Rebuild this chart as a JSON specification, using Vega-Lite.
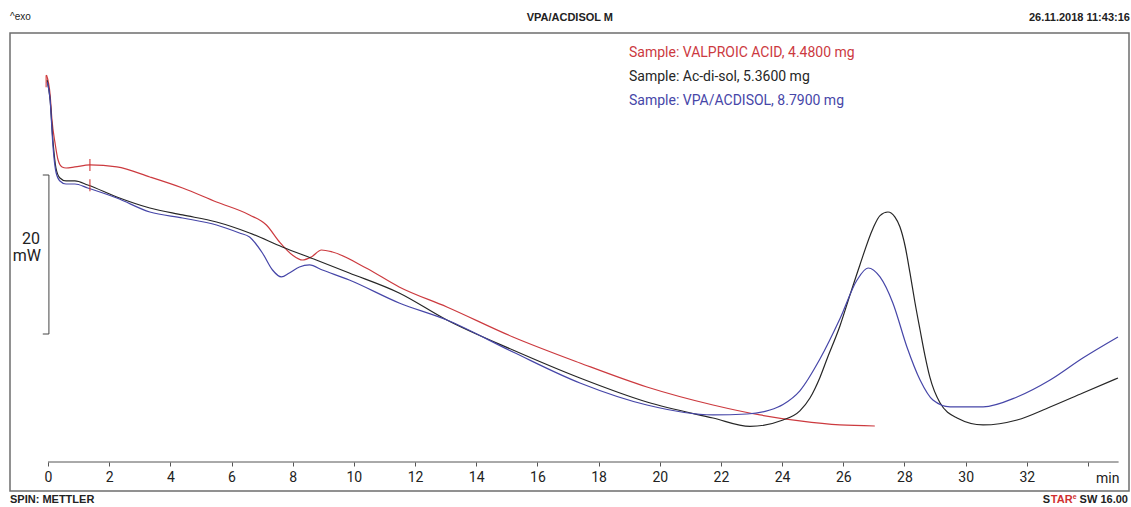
{
  "$schema": "https://vega.github.io/schema/vega-lite/v6.json",
  "width": 1119,
  "height": 429,
  "autosize": "none",
  "padding": {"left": 10, "top": 33, "right": 2, "bottom": 45},
  "background": "white",
  "config": {
    "view": {"stroke": null},
    "font": "Roboto"
  },
  "datasets": {
    "curves": [
      {"series": "VALPROIC ACID", "t": -0.05, "mW": 48.38},
      {"series": "VALPROIC ACID", "t": 0.07, "mW": 45.88},
      {"series": "VALPROIC ACID", "t": 0.13, "mW": 42.75},
      {"series": "VALPROIC ACID", "t": 0.23, "mW": 39.88},
      {"series": "VALPROIC ACID", "t": 0.33, "mW": 37.75},
      {"series": "VALPROIC ACID", "t": 0.46, "mW": 36.88},
      {"series": "VALPROIC ACID", "t": 0.59, "mW": 36.75},
      {"series": "VALPROIC ACID", "t": 0.88, "mW": 36.88},
      {"series": "VALPROIC ACID", "t": 1.37, "mW": 37.13},
      {"series": "VALPROIC ACID", "t": 2.25, "mW": 36.88},
      {"series": "VALPROIC ACID", "t": 3.33, "mW": 35.63},
      {"series": "VALPROIC ACID", "t": 4.4, "mW": 34.25},
      {"series": "VALPROIC ACID", "t": 5.51, "mW": 32.5},
      {"series": "VALPROIC ACID", "t": 6.59, "mW": 30.88},
      {"series": "VALPROIC ACID", "t": 7.14, "mW": 29.63},
      {"series": "VALPROIC ACID", "t": 7.57, "mW": 27.5},
      {"series": "VALPROIC ACID", "t": 7.99, "mW": 25.88},
      {"series": "VALPROIC ACID", "t": 8.32, "mW": 25.25},
      {"series": "VALPROIC ACID", "t": 8.61, "mW": 25.63},
      {"series": "VALPROIC ACID", "t": 8.94, "mW": 26.5},
      {"series": "VALPROIC ACID", "t": 9.3, "mW": 26.25},
      {"series": "VALPROIC ACID", "t": 10.4, "mW": 24.25},
      {"series": "VALPROIC ACID", "t": 11.48, "mW": 21.88},
      {"series": "VALPROIC ACID", "t": 13.04, "mW": 19.38},
      {"series": "VALPROIC ACID", "t": 15.2, "mW": 15.63},
      {"series": "VALPROIC ACID", "t": 17.39, "mW": 12.38},
      {"series": "VALPROIC ACID", "t": 19.58, "mW": 9.38},
      {"series": "VALPROIC ACID", "t": 21.74, "mW": 7.13},
      {"series": "VALPROIC ACID", "t": 23.28, "mW": 5.88},
      {"series": "VALPROIC ACID", "t": 24.58, "mW": 5.13},
      {"series": "VALPROIC ACID", "t": 25.89, "mW": 4.63},
      {"series": "VALPROIC ACID", "t": 27.03, "mW": 4.5},

      {"series": "Ac-di-sol", "t": -0.03, "mW": 47.75},
      {"series": "Ac-di-sol", "t": 0.07, "mW": 45.25},
      {"series": "Ac-di-sol", "t": 0.16, "mW": 40.25},
      {"series": "Ac-di-sol", "t": 0.26, "mW": 36.75},
      {"series": "Ac-di-sol", "t": 0.39, "mW": 35.5},
      {"series": "Ac-di-sol", "t": 0.59, "mW": 35.13},
      {"series": "Ac-di-sol", "t": 0.88, "mW": 35.13},
      {"series": "Ac-di-sol", "t": 1.3, "mW": 34.63},
      {"series": "Ac-di-sol", "t": 2.25, "mW": 33.13},
      {"series": "Ac-di-sol", "t": 3.33, "mW": 31.75},
      {"series": "Ac-di-sol", "t": 4.4, "mW": 30.88},
      {"series": "Ac-di-sol", "t": 5.51, "mW": 30.0},
      {"series": "Ac-di-sol", "t": 6.59, "mW": 28.63},
      {"series": "Ac-di-sol", "t": 7.66, "mW": 26.88},
      {"series": "Ac-di-sol", "t": 8.77, "mW": 25.25},
      {"series": "Ac-di-sol", "t": 9.85, "mW": 23.63},
      {"series": "Ac-di-sol", "t": 11.48, "mW": 21.13},
      {"series": "Ac-di-sol", "t": 13.04, "mW": 17.75},
      {"series": "Ac-di-sol", "t": 15.2, "mW": 14.0},
      {"series": "Ac-di-sol", "t": 17.39, "mW": 10.5},
      {"series": "Ac-di-sol", "t": 19.58, "mW": 7.5},
      {"series": "Ac-di-sol", "t": 21.74, "mW": 5.5},
      {"series": "Ac-di-sol", "t": 22.95, "mW": 4.45},
      {"series": "Ac-di-sol", "t": 24.03, "mW": 5.25},
      {"series": "Ac-di-sol", "t": 24.58, "mW": 6.4},
      {"series": "Ac-di-sol", "t": 24.91, "mW": 8.0},
      {"series": "Ac-di-sol", "t": 25.24, "mW": 10.6},
      {"series": "Ac-di-sol", "t": 25.47, "mW": 12.9},
      {"series": "Ac-di-sol", "t": 25.89, "mW": 17.0},
      {"series": "Ac-di-sol", "t": 26.22, "mW": 20.9},
      {"series": "Ac-di-sol", "t": 26.54, "mW": 24.6},
      {"series": "Ac-di-sol", "t": 26.97, "mW": 29.2},
      {"series": "Ac-di-sol", "t": 27.2, "mW": 30.8},
      {"series": "Ac-di-sol", "t": 27.46, "mW": 31.25},
      {"series": "Ac-di-sol", "t": 27.69, "mW": 30.6},
      {"series": "Ac-di-sol", "t": 27.85, "mW": 29.4},
      {"series": "Ac-di-sol", "t": 28.02, "mW": 27.0},
      {"series": "Ac-di-sol", "t": 28.18, "mW": 23.63},
      {"series": "Ac-di-sol", "t": 28.34, "mW": 20.0},
      {"series": "Ac-di-sol", "t": 28.51, "mW": 16.5},
      {"series": "Ac-di-sol", "t": 28.67, "mW": 13.3},
      {"series": "Ac-di-sol", "t": 28.83, "mW": 10.6},
      {"series": "Ac-di-sol", "t": 29.16, "mW": 7.4},
      {"series": "Ac-di-sol", "t": 29.72, "mW": 5.5},
      {"series": "Ac-di-sol", "t": 30.57, "mW": 4.63},
      {"series": "Ac-di-sol", "t": 31.68, "mW": 5.25},
      {"series": "Ac-di-sol", "t": 32.76, "mW": 6.88},
      {"series": "Ac-di-sol", "t": 33.83, "mW": 8.63},
      {"series": "Ac-di-sol", "t": 34.98, "mW": 10.5},

      {"series": "VPA/ACDISOL", "t": -0.03, "mW": 47.5},
      {"series": "VPA/ACDISOL", "t": 0.07, "mW": 45.25},
      {"series": "VPA/ACDISOL", "t": 0.16, "mW": 39.63},
      {"series": "VPA/ACDISOL", "t": 0.26, "mW": 36.25},
      {"series": "VPA/ACDISOL", "t": 0.39, "mW": 35.13},
      {"series": "VPA/ACDISOL", "t": 0.59, "mW": 34.75},
      {"series": "VPA/ACDISOL", "t": 0.88, "mW": 34.75},
      {"series": "VPA/ACDISOL", "t": 1.3, "mW": 34.25},
      {"series": "VPA/ACDISOL", "t": 2.25, "mW": 33.0},
      {"series": "VPA/ACDISOL", "t": 3.33, "mW": 31.25},
      {"series": "VPA/ACDISOL", "t": 4.4, "mW": 30.5},
      {"series": "VPA/ACDISOL", "t": 5.51, "mW": 29.63},
      {"series": "VPA/ACDISOL", "t": 6.26, "mW": 28.63},
      {"series": "VPA/ACDISOL", "t": 6.59, "mW": 28.13},
      {"series": "VPA/ACDISOL", "t": 7.01, "mW": 26.13},
      {"series": "VPA/ACDISOL", "t": 7.34, "mW": 24.0},
      {"series": "VPA/ACDISOL", "t": 7.63, "mW": 23.13},
      {"series": "VPA/ACDISOL", "t": 7.89, "mW": 23.63},
      {"series": "VPA/ACDISOL", "t": 8.22, "mW": 24.38},
      {"series": "VPA/ACDISOL", "t": 8.55, "mW": 24.63},
      {"series": "VPA/ACDISOL", "t": 8.97, "mW": 24.0},
      {"series": "VPA/ACDISOL", "t": 9.85, "mW": 22.75},
      {"series": "VPA/ACDISOL", "t": 11.48, "mW": 19.88},
      {"series": "VPA/ACDISOL", "t": 13.04, "mW": 17.75},
      {"series": "VPA/ACDISOL", "t": 15.2, "mW": 13.75},
      {"series": "VPA/ACDISOL", "t": 17.39, "mW": 9.88},
      {"series": "VPA/ACDISOL", "t": 19.58, "mW": 7.13},
      {"series": "VPA/ACDISOL", "t": 21.74, "mW": 5.88},
      {"series": "VPA/ACDISOL", "t": 22.85, "mW": 6.0},
      {"series": "VPA/ACDISOL", "t": 23.6, "mW": 6.5},
      {"series": "VPA/ACDISOL", "t": 24.03, "mW": 7.2},
      {"series": "VPA/ACDISOL", "t": 24.58, "mW": 8.9},
      {"series": "VPA/ACDISOL", "t": 25.24, "mW": 12.9},
      {"series": "VPA/ACDISOL", "t": 25.89, "mW": 17.9},
      {"series": "VPA/ACDISOL", "t": 26.45, "mW": 22.75},
      {"series": "VPA/ACDISOL", "t": 26.81, "mW": 24.25},
      {"series": "VPA/ACDISOL", "t": 27.2, "mW": 23.13},
      {"series": "VPA/ACDISOL", "t": 27.62, "mW": 19.88},
      {"series": "VPA/ACDISOL", "t": 28.08, "mW": 14.38},
      {"series": "VPA/ACDISOL", "t": 28.51, "mW": 10.25},
      {"series": "VPA/ACDISOL", "t": 28.93, "mW": 7.75},
      {"series": "VPA/ACDISOL", "t": 29.49, "mW": 6.9},
      {"series": "VPA/ACDISOL", "t": 30.57, "mW": 6.9},
      {"series": "VPA/ACDISOL", "t": 31.68, "mW": 8.13},
      {"series": "VPA/ACDISOL", "t": 32.76, "mW": 10.25},
      {"series": "VPA/ACDISOL", "t": 33.83, "mW": 13.0},
      {"series": "VPA/ACDISOL", "t": 34.98, "mW": 15.63}
    ],
    "limits": [
      {"t": -0.06, "mW": 47.6},
      {"t": 1.37, "mW": 37.13},
      {"t": 1.37, "mW": 34.6}
    ],
    "one": [{}]
  },
  "layer": [
    {
      "data": {"name": "curves"},
      "mark": {"type": "line", "interpolate": "monotone", "strokeWidth": 1.2},
      "encoding": {
        "x": {
          "field": "t", "type": "quantitative",
          "scale": {"domain": [-1.242, 35.34], "nice": false, "zero": false},
          "axis": {
            "orient": "bottom",
            "title": null, "domain": false, "grid": false,
            "values": [0,1,2,3,4,5,6,7,8,9,10,11,12,13,14,15,16,17,18,19,20,21,22,23,24,25,26,27,28,29,30,31,32,33,34,35],
            "tickSize": 4, "tickColor": "#555555", "tickWidth": 1,
            "labelExpr": "datum.value % 2 == 0 && datum.value <= 32 ? datum.label : ''",
            "labelFontSize": 14, "labelColor": "#222222", "labelPadding": 4,
            "labelOverlap": false, "labelFlush": false, "labelFont": "Roboto"
          }
        },
        "y": {
          "field": "mW", "type": "quantitative",
          "scale": {"domain": [0, 53.625], "nice": false, "zero": false},
          "axis": null
        },
        "color": {
          "field": "series", "type": "nominal",
          "scale": {
            "domain": ["VALPROIC ACID", "Ac-di-sol", "VPA/ACDISOL"],
            "range": ["#cc3a3f", "#262626", "#4646a8"]
          },
          "legend": {
            "orient": "none", "legendX": 605, "legendY": 13,
            "title": null, "symbolSize": 0, "symbolStrokeWidth": 0,
            "labelOffset": 0, "labelFontSize": 14, "labelFont": "Roboto",
            "rowPadding": 10,
            "labelLimit": 400,
            "labelExpr": "'Sample: ' + datum.label + ', ' + (datum.label == 'VALPROIC ACID' ? '4.4800' : datum.label == 'Ac-di-sol' ? '5.3600' : '8.7900') + ' mg'",
            "encode": {"labels": {"update": {"fill": {"scale": "color", "field": "value"}}}}
          }
        }
      }
    },
    {
      "data": {"name": "one"},
      "mark": {"type": "rect", "fill": null, "fillOpacity": 0, "stroke": "#6e6e6e", "strokeWidth": 1.5},
      "encoding": {
        "x": {"datum": -1.242, "type": "quantitative"},
        "x2": {"datum": 35.34},
        "y": {"datum": 53.625, "type": "quantitative", "axis": null},
        "y2": {"datum": -3.625}
      }
    },
    {
      "data": {"name": "limits"},
      "mark": {"type": "tick", "orient": "vertical", "color": "#d03030", "size": 12, "thickness": 1.5},
      "encoding": {
        "x": {"field": "t", "type": "quantitative"},
        "y": {"field": "mW", "type": "quantitative", "axis": null}
      }
    },
    {
      "data": {"name": "one"},
      "layer": [
        {
          "mark": {"type": "rule", "color": "#555555", "strokeWidth": 1},
          "encoding": {
            "x": {"datum": 0, "type": "quantitative"},
            "x2": {"datum": 35},
            "y": {"datum": 0, "type": "quantitative", "axis": null}
          }
        },
        {
          "mark": {"type": "rule", "color": "#444444", "strokeWidth": 1},
          "encoding": {
            "x": {"datum": 0.03, "type": "quantitative"},
            "y": {"datum": 35.875, "type": "quantitative", "axis": null},
            "y2": {"datum": 16.0}
          }
        },
        {
          "mark": {"type": "rule", "color": "#444444", "strokeWidth": 1},
          "encoding": {
            "x": {"datum": -0.17, "type": "quantitative"},
            "x2": {"datum": 0.03},
            "y": {"datum": 35.875, "type": "quantitative", "axis": null}
          }
        },
        {
          "mark": {"type": "rule", "color": "#444444", "strokeWidth": 1},
          "encoding": {
            "x": {"datum": -0.17, "type": "quantitative"},
            "x2": {"datum": 0.03},
            "y": {"datum": 16.0, "type": "quantitative", "axis": null}
          }
        },
        {
          "mark": {"type": "text", "align": "right", "baseline": "middle", "fontSize": 16, "font": "Roboto", "color": "#222222", "text": "20", "dx": -1},
          "encoding": {
            "x": {"datum": -0.23, "type": "quantitative"},
            "y": {"datum": 27.875, "type": "quantitative", "axis": null}
          }
        },
        {
          "mark": {"type": "text", "align": "right", "baseline": "middle", "fontSize": 16, "font": "Roboto", "color": "#222222", "text": "mW"},
          "encoding": {
            "x": {"datum": -0.23, "type": "quantitative"},
            "y": {"datum": 25.75, "type": "quantitative", "axis": null}
          }
        },
        {
          "mark": {"type": "text", "align": "right", "baseline": "alphabetic", "fontSize": 14, "font": "Roboto", "color": "#222222", "text": "min"},
          "encoding": {
            "x": {"datum": 35.03, "type": "quantitative"},
            "y": {"datum": -2.625, "type": "quantitative", "axis": null}
          }
        },
        {
          "mark": {"type": "text", "align": "left", "baseline": "middle", "fontSize": 10, "font": "Liberation Sans", "color": "#222222", "text": "^exo"},
          "encoding": {
            "x": {"datum": -1.242, "type": "quantitative"},
            "y": {"datum": 55.625, "type": "quantitative", "axis": null}
          }
        },
        {
          "mark": {"type": "text", "align": "center", "baseline": "middle", "fontSize": 11, "fontWeight": "bold", "font": "Liberation Sans", "color": "#222222", "text": "VPA/ACDISOL M"},
          "encoding": {
            "x": {"datum": 17.06, "type": "quantitative"},
            "y": {"datum": 55.5, "type": "quantitative", "axis": null}
          }
        },
        {
          "mark": {"type": "text", "align": "right", "baseline": "middle", "fontSize": 11, "fontWeight": "bold", "font": "Liberation Sans", "color": "#222222", "text": "26.11.2018 11:43:16"},
          "encoding": {
            "x": {"datum": 35.37, "type": "quantitative"},
            "y": {"datum": 55.5, "type": "quantitative", "axis": null}
          }
        },
        {
          "mark": {"type": "text", "align": "left", "baseline": "middle", "fontSize": 11, "fontWeight": "bold", "font": "Liberation Sans", "color": "#222222", "text": "SPIN: METTLER"},
          "encoding": {
            "x": {"datum": -1.242, "type": "quantitative"},
            "y": {"datum": -4.8, "type": "quantitative", "axis": null}
          }
        },
        {
          "mark": {"type": "text", "align": "right", "baseline": "middle", "fontSize": 11, "fontWeight": "bold", "font": "Liberation Sans", "color": "#222222", "text": "SW 16.00"},
          "encoding": {
            "x": {"datum": 35.305, "type": "quantitative"},
            "y": {"datum": -4.8, "type": "quantitative", "axis": null}
          }
        },
        {
          "mark": {"type": "text", "align": "right", "baseline": "middle", "fontSize": 7, "fontWeight": "bold", "font": "Liberation Sans", "color": "#d03030", "text": "e", "dy": -3},
          "encoding": {
            "x": {"datum": 33.626, "type": "quantitative"},
            "y": {"datum": -4.8, "type": "quantitative", "axis": null}
          }
        },
        {
          "mark": {"type": "text", "align": "right", "baseline": "middle", "fontSize": 11, "fontWeight": "bold", "font": "Liberation Sans", "color": "#d03030", "text": "TAR"},
          "encoding": {
            "x": {"datum": 33.498, "type": "quantitative"},
            "y": {"datum": -4.8, "type": "quantitative", "axis": null}
          }
        },
        {
          "mark": {"type": "text", "align": "right", "baseline": "middle", "fontSize": 11, "fontWeight": "bold", "font": "Liberation Sans", "color": "#222222", "text": "S"},
          "encoding": {
            "x": {"datum": 32.759, "type": "quantitative"},
            "y": {"datum": -4.8, "type": "quantitative", "axis": null}
          }
        }
      ]
    }
  ]
}
